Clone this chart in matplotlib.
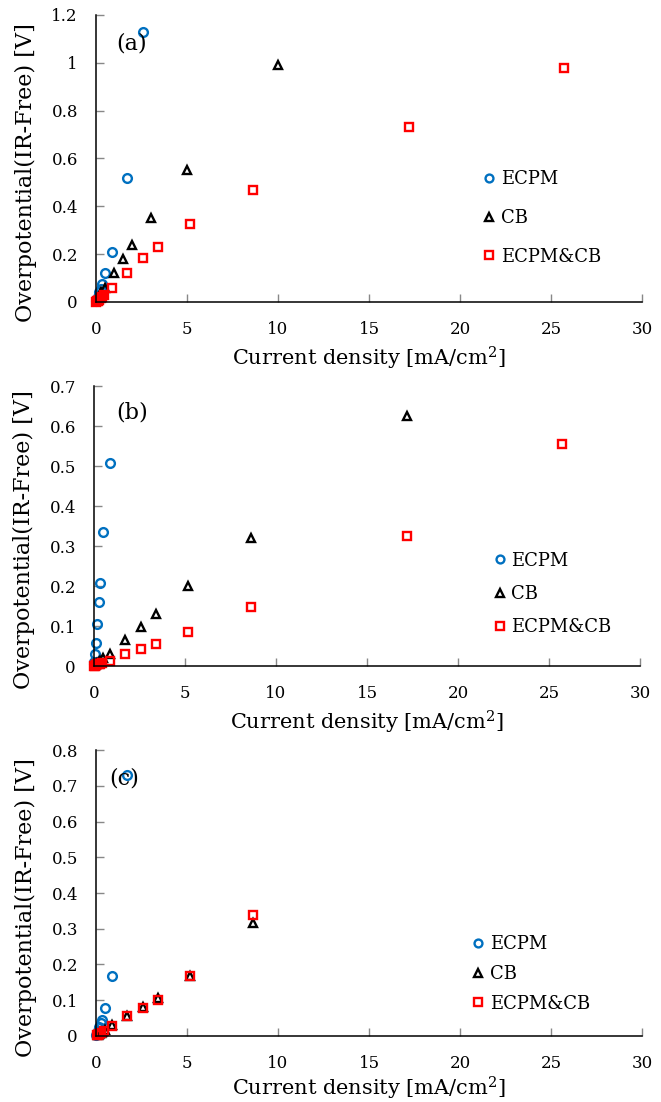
import numpy as np
import matplotlib
matplotlib.use('Agg')
import matplotlib.pyplot as plt
from matplotlib.ticker import FuncFormatter, MultipleLocator

plt.rcParams['font.family'] = ['DejaVu Serif']
plt.rcParams['mathtext.fontset'] = 'dejavuserif'

# ---- data: current density [mA/cm2], overpotential [V]
# (a)
a_ecpm_x = [2.58, 1.72, 0.86, 0.52, 0.34, 0.26, 0.17, 0.086, 0.043, 0.017]
a_ecpm_y = [1.13, 0.52, 0.21, 0.12, 0.075, 0.055, 0.04, 0.02, 0.01, 0.004]
a_cb_x = [10.0, 5.0, 3.0, 2.0, 1.5, 1.0, 0.5, 0.3, 0.2, 0.1, 0.05]
a_cb_y = [0.99, 0.55, 0.35, 0.24, 0.18, 0.12, 0.06, 0.04, 0.03, 0.015, 0.008]
a_mix_x = [25.7, 17.2, 8.6, 5.15, 3.43, 2.58, 1.72, 0.86, 0.43, 0.34, 0.26, 0.17, 0.086, 0.043, 0.017]
a_mix_y = [0.98, 0.73, 0.47, 0.325, 0.23, 0.183, 0.123, 0.06, 0.03, 0.02, 0.015, 0.01, 0.005, 0.003, 0.001]

# (b)
b_ecpm_x = [0.86, 0.52, 0.34, 0.26, 0.17, 0.086, 0.043, 0.017, 0.009]
b_ecpm_y = [0.508, 0.335, 0.208, 0.16, 0.105, 0.058, 0.029, 0.01, 0.004]
b_cb_x = [17.2, 8.6, 5.15, 3.43, 2.58, 1.72, 0.86, 0.52, 0.34, 0.26, 0.17, 0.086, 0.043]
b_cb_y = [0.625, 0.32, 0.2, 0.13, 0.098, 0.065, 0.03, 0.02, 0.013, 0.01, 0.007, 0.004, 0.002]
b_mix_x = [25.7, 17.2, 8.6, 5.15, 3.43, 2.58, 1.72, 0.86, 0.43, 0.34, 0.26, 0.17, 0.086, 0.043, 0.017]
b_mix_y = [0.555, 0.325, 0.148, 0.086, 0.055, 0.043, 0.029, 0.0125, 0.008, 0.006, 0.005, 0.004, 0.002, 0.001, 0.0005]

# (c)
c_ecpm_x = [1.72, 0.86, 0.52, 0.34, 0.26, 0.17, 0.086, 0.043, 0.017]
c_ecpm_y = [0.73, 0.168, 0.077, 0.045, 0.035, 0.025, 0.013, 0.006, 0.002]
c_cb_x = [8.6, 5.15, 3.43, 2.58, 1.72, 0.86, 0.52, 0.34, 0.26, 0.17, 0.086]
c_cb_y = [0.317, 0.168, 0.105, 0.082, 0.056, 0.03, 0.018, 0.012, 0.009, 0.006, 0.003]
c_mix_x = [8.6, 5.15, 3.43, 2.58, 1.72, 0.86, 0.43, 0.26, 0.17, 0.086, 0.043]
c_mix_y = [0.338, 0.168, 0.1, 0.079, 0.055, 0.028, 0.014, 0.009, 0.006, 0.003, 0.002]

labels = ['ECPM', 'CB', 'ECPM&CB']
panel_tags = ['(a)', '(b)', '(c)']
y_max = [1.2, 0.7, 0.8]
y_step = [0.2, 0.1, 0.1]

panels = [
    [(a_ecpm_x, a_ecpm_y), (a_cb_x, a_cb_y), (a_mix_x, a_mix_y)],
    [(b_ecpm_x, b_ecpm_y), (b_cb_x, b_cb_y), (b_mix_x, b_mix_y)],
    [(c_ecpm_x, c_ecpm_y), (c_cb_x, c_cb_y), (c_mix_x, c_mix_y)],
]

W, H = 661, 1102
# axes boxes in figure fraction [left, bottom, width, height]
boxes = [
    [0.1452, 0.7260, 0.8261, 0.2604],
    [0.1422, 0.3956, 0.8261, 0.2541],
    [0.1452, 0.0599, 0.8261, 0.2595],
]
xlab_gap = [43, 43, 39]  # px from axis to top of x label
# legend placement (marker x, centre y in axes fraction) and spacing
leg_pos = [(0.72, 0.293), (0.743, 0.257), (0.70, 0.217)]
leg_space = [1.15, 0.85, 0.65]
tag_pos = [(0.037, 0.90), (0.040, 0.907), (0.024, 0.90)]

styles = [
    dict(marker='o', color='#0070C0'),
    dict(marker='^', color='black'),
    dict(marker='s', color='#FF0000'),
]

fig = plt.figure(figsize=(W / 100, H / 100), dpi=100)

for i in range(3):
    ax = fig.add_axes(boxes[i])
    ax_w = boxes[i][2] * W
    ax_h = boxes[i][3] * H
    for (xs, ys), st, lab in zip(panels[i], styles, labels):
        ax.plot(xs, ys, linestyle='none', marker=st['marker'], markersize=6.3,
                markerfacecolor='none', markeredgecolor=st['color'],
                markeredgewidth=1.7, label=lab, clip_on=False)
    ax.set_xlim(0, 30)
    ax.set_ylim(0, y_max[i])
    ax.xaxis.set_major_locator(MultipleLocator(5))
    ax.yaxis.set_major_locator(MultipleLocator(y_step[i]))
    ax.yaxis.set_major_formatter(FuncFormatter(lambda v, p: '%g' % round(v, 2)))
    ax.spines['top'].set_visible(False)
    ax.spines['right'].set_visible(False)
    ax.spines['left'].set_linewidth(1.1)
    ax.spines['bottom'].set_linewidth(1.1)
    ax.tick_params(direction='in', length=6, width=1, color='#888888',
                   labelsize=12)
    ax.tick_params(axis='y', pad=13)
    ax.tick_params(axis='x', pad=14)
    ax.set_xlabel('Current density [mA/cm$^2$]', fontsize=15)
    ax.set_ylabel('Overpotential(IR-Free) [V]', fontsize=16)
    # label positions (pixels from the axes edges)
    ax.xaxis.set_label_coords(0.5, -xlab_gap[i] / ax_h)
    ax.yaxis.set_label_coords(-59 / ax_w, 0.45)
    ax.text(tag_pos[i][0], tag_pos[i][1], panel_tags[i], transform=ax.transAxes,
            fontsize=16, va='center', ha='left')
    em = 13 * 100 / 72 / ax_w
    ax.legend(loc='center left', bbox_to_anchor=(leg_pos[i][0] - 0.5 * em, leg_pos[i][1]),
              frameon=False, fontsize=13, handlelength=1.0, handletextpad=0.15,
              labelspacing=leg_space[i], borderpad=0, borderaxespad=0,
              markerscale=0.9)

fig.savefig('out.png', dpi=100)
